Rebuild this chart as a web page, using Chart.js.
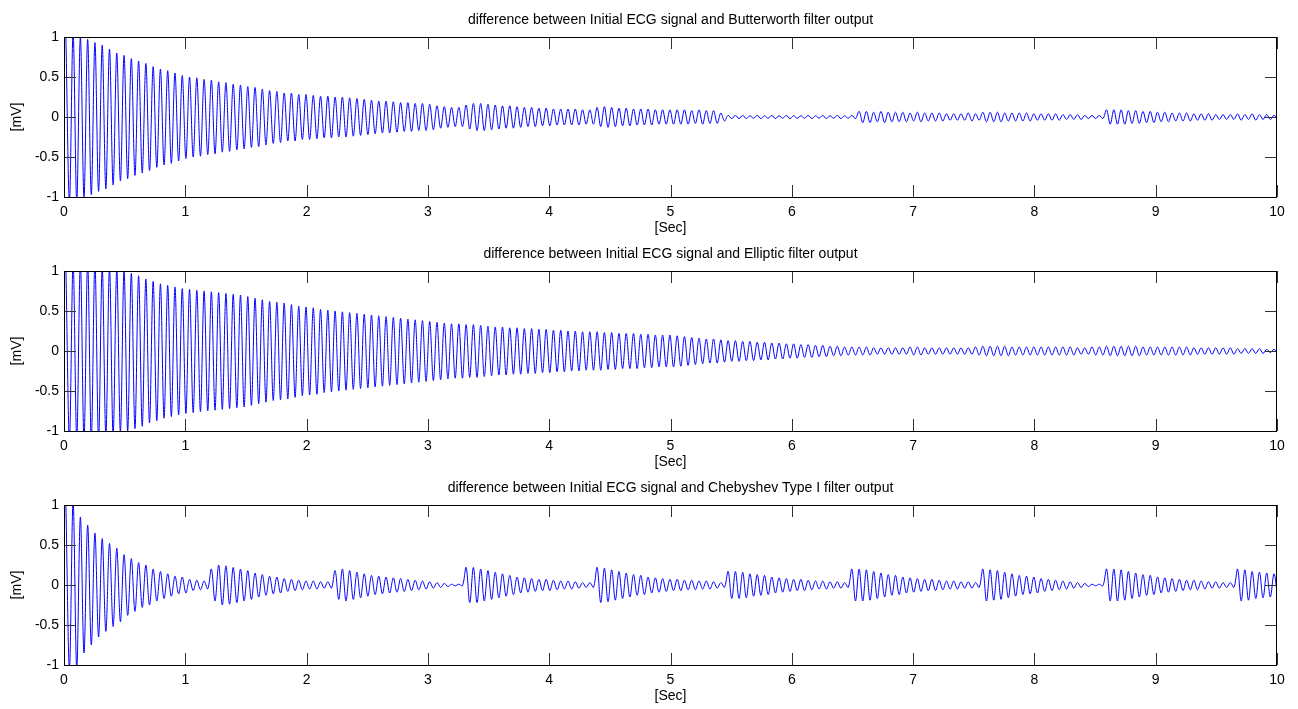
<!DOCTYPE html>
<html>
<head>
<meta charset="utf-8">
<script src="https://cdn.jsdelivr.net/npm/chart.js@4.4.1/dist/chart.umd.min.js"></script>
<style>
  html, body { margin: 0; padding: 0; background: #fff; }
  body { width: 1298px; height: 709px; position: relative; overflow: hidden; }
  .panel { position: absolute; left: 0; width: 1298px; height: 237px; }
</style>
</head>
<body>
<div class="panel" style="top:0"><canvas id="c0" width="1298" height="237"></canvas></div>
<div class="panel" style="top:234px"><canvas id="c1" width="1298" height="237"></canvas></div>
<div class="panel" style="top:468px"><canvas id="c2" width="1298" height="237"></canvas></div>
<script>
// axis ticks
const xTicks = [0, 1, 2, 3, 4, 5, 6, 7, 8, 9, 10]
const yTicks = [-1, -0.5, 0, 0.5, 1]

const titles = [
  'difference between Initial ECG signal and Butterworth filter output',
  'difference between Initial ECG signal and Elliptic filter output',
  'difference between Initial ECG signal and Chebyshev Type I filter output'
]

// the residual oscillates at ~16.7 Hz -> one cycle every 0.06 s
const period = 0.06

// peak amplitude of each cycle [mV] (167 cycles over 10 s)
const butterworthAmp = [
  1.05, 1.05, 1.0, 0.97, 0.93, 0.9, 0.85, 0.8, 0.77, 0.73, 0.7, 0.67, 0.63, 0.6, 0.58, 0.55, 0.52,
  0.5, 0.49, 0.47, 0.46, 0.44, 0.43, 0.41, 0.4, 0.38, 0.37, 0.35, 0.33, 0.32, 0.3, 0.3, 0.28, 0.28,
  0.27, 0.26, 0.26, 0.25, 0.25, 0.24, 0.23, 0.22, 0.21, 0.2, 0.2, 0.19, 0.18, 0.18, 0.17, 0.17, 0.16,
  0.14, 0.13, 0.12, 0.12, 0.15, 0.17, 0.17, 0.16, 0.15, 0.14, 0.14, 0.13, 0.12, 0.12, 0.11, 0.11, 0.1,
  0.1, 0.1, 0.1, 0.09, 0.09, 0.12, 0.13, 0.12, 0.11, 0.11, 0.1, 0.1, 0.1, 0.09, 0.09, 0.09,
  0.09, 0.09, 0.08, 0.09, 0.08, 0.08, 0.05, 0.02, 0.02, 0.02, 0.015, 0.02, 0.015, 0.02, 0.015, 0.02, 0.015,
  0.015, 0.02, 0.015, 0.02, 0.015, 0.02, 0.015, 0.02,
  0.07, 0.07, 0.06, 0.07, 0.06, 0.06, 0.06, 0.05, 0.06, 0.05, 0.05, 0.05, 0.04, 0.04, 0.04, 0.05, 0.04,
  0.06, 0.06, 0.06, 0.05, 0.05, 0.05, 0.05, 0.04, 0.04, 0.04, 0.04, 0.03, 0.03, 0.03, 0.02, 0.02, 0.02,
  0.09, 0.09, 0.09, 0.08, 0.08, 0.07, 0.07, 0.06, 0.06, 0.05, 0.05, 0.05, 0.04, 0.04, 0.04, 0.03, 0.03,
  0.03, 0.04, 0.03, 0.04, 0.03, 0.03, 0.02
]

const ellipticAmp = [
  1.1, 1.1, 1.1, 1.1, 1.1, 1.05, 1.05, 1.02, 1.0,
  0.97, 0.94, 0.9, 0.87, 0.84, 0.82, 0.8, 0.78,
  0.77, 0.76, 0.75, 0.74, 0.73, 0.72, 0.71, 0.7, 0.68, 0.66, 0.64, 0.62, 0.61, 0.6, 0.58, 0.56, 0.55,
  0.54, 0.52, 0.51, 0.5, 0.49, 0.48, 0.47, 0.46, 0.45, 0.44, 0.43, 0.42, 0.41, 0.4, 0.39, 0.38, 0.37,
  0.36, 0.35, 0.34, 0.34, 0.33, 0.33, 0.32, 0.31, 0.3, 0.3, 0.29, 0.29, 0.28, 0.28, 0.27, 0.27, 0.26,
  0.26, 0.25, 0.25, 0.24, 0.24, 0.24, 0.23, 0.23, 0.22, 0.22, 0.22, 0.21, 0.21, 0.2, 0.2, 0.2, 0.19,
  0.18, 0.17, 0.16, 0.15, 0.15, 0.14, 0.13, 0.13, 0.12, 0.12, 0.11, 0.11, 0.1, 0.1, 0.09, 0.09, 0.08,
  0.08, 0.07, 0.07, 0.06, 0.06, 0.05, 0.05, 0.05, 0.05, 0.04, 0.04, 0.04, 0.04, 0.04, 0.05, 0.05, 0.04,
  0.04, 0.04, 0.04, 0.04, 0.04, 0.04, 0.05, 0.06, 0.06, 0.06, 0.06, 0.05, 0.05, 0.05, 0.05, 0.05, 0.05,
  0.05, 0.05, 0.05, 0.04, 0.04, 0.05, 0.05, 0.06, 0.06, 0.06, 0.06, 0.06, 0.05, 0.05, 0.05, 0.05, 0.05,
  0.05, 0.05, 0.04, 0.04, 0.04, 0.04, 0.04, 0.04, 0.03, 0.03, 0.03, 0.03, 0.02, 0.02
]

const chebyshevAmp = [
  1.05, 1.05, 0.85, 0.75, 0.65, 0.58, 0.52, 0.46, 0.38, 0.33, 0.28, 0.25, 0.2, 0.17, 0.14, 0.11, 0.1, 0.07, 0.06, 0.05,
  0.2, 0.25, 0.24, 0.22, 0.2, 0.18, 0.15, 0.13, 0.11, 0.1, 0.08, 0.07, 0.06, 0.05, 0.05, 0.04, 0.04,
  0.18, 0.2, 0.18, 0.16, 0.14, 0.12, 0.11, 0.1, 0.09, 0.08, 0.07, 0.06, 0.05, 0.04, 0.03, 0.02, 0.01, 0.01,
  0.22, 0.22, 0.2, 0.18, 0.16, 0.14, 0.12, 0.1, 0.09, 0.08, 0.07, 0.07, 0.06, 0.05, 0.05, 0.04, 0.03, 0.03,
  0.22, 0.21, 0.19, 0.17, 0.15, 0.13, 0.12, 0.1, 0.09, 0.08, 0.07, 0.07, 0.06, 0.06, 0.05, 0.05, 0.04, 0.03,
  0.17, 0.17, 0.16, 0.14, 0.13, 0.12, 0.1, 0.09, 0.08, 0.07, 0.07, 0.06, 0.05, 0.05, 0.04, 0.04, 0.03,
  0.2, 0.2, 0.19, 0.17, 0.15, 0.13, 0.12, 0.1, 0.09, 0.08, 0.07, 0.07, 0.06, 0.05, 0.05, 0.04, 0.04, 0.03,
  0.2, 0.19, 0.18, 0.16, 0.14, 0.12, 0.11, 0.1, 0.08, 0.07, 0.06, 0.05, 0.04, 0.03, 0.02, 0.01, 0.01,
  0.2, 0.2, 0.19, 0.17, 0.15, 0.13, 0.12, 0.1, 0.09, 0.08, 0.07, 0.06, 0.06, 0.05, 0.04, 0.04, 0.03, 0.03,
  0.2, 0.19, 0.17, 0.16, 0.15, 0.14
]

const series = [butterworthAmp, ellipticAmp, chebyshevAmp]

const FONT = "'Liberation Sans', Arial, sans-serif"
Chart.defaults.font.family = FONT
Chart.defaults.font.size = 14
Chart.defaults.color = '#000'

// one peak and one trough per cycle
function toTrace(amp) {
  const pts = []
  amp.forEach((a, k) => {
    pts.push({ x: k * period + period / 4, y: a })
    pts.push({ x: k * period + 3 * period / 4, y: -a })
  })
  return pts
}

// matlab style: closed box, ticks pointing inwards on all four sides
const matlabBox = {
  id: 'matlabBox',
  afterDatasetsDraw(chart) {
    const { ctx, chartArea: a, scales: { x, y } } = chart
    ctx.save()
    ctx.lineWidth = 1
    ctx.strokeStyle = '#333'
    ctx.beginPath()
    xTicks.forEach(v => {
      const px = Math.round(x.getPixelForValue(v)) + 0.5
      ctx.moveTo(px, a.bottom); ctx.lineTo(px, a.bottom - 12)
      ctx.moveTo(px, a.top); ctx.lineTo(px, a.top + 12)
    })
    yTicks.forEach(v => {
      const py = Math.round(y.getPixelForValue(v)) + 0.5
      ctx.moveTo(a.left, py); ctx.lineTo(a.left + 12, py)
      ctx.moveTo(a.right, py); ctx.lineTo(a.right - 12, py)
    })
    ctx.stroke()
    ctx.strokeStyle = '#000'
    ctx.strokeRect(Math.round(a.left) + 0.5, Math.round(a.top) + 0.5,
      Math.round(a.width) - 1, Math.round(a.height))
    ctx.restore()
  }
}

series.forEach((amp, i) => {
  const ctx = document.getElementById('c' + i).getContext('2d')
  new Chart(ctx, {
    type: 'line',
    data: {
      datasets: [{
        data: toTrace(amp),
        borderColor: '#0000ff',
        borderWidth: 1,
        pointRadius: 0,
        tension: 0.35,
        fill: false
      }]
    },
    options: {
      responsive: false,
      animation: false,
      events: [],
      layout: { padding: { left: 0, right: 21, top: 0, bottom: 0 } },
      plugins: {
        legend: { display: false },
        tooltip: { enabled: false },
        title: {
          display: true,
          fullSize: false,   // center over the axes like matlab
          text: titles[i],
          font: { size: 14, weight: 'normal', lineHeight: 1.2 },
          color: '#000',
          padding: { top: 11.6, bottom: 8.6 }
        }
      },
      scales: {
        x: {
          type: 'linear',
          min: 0,
          max: 10,
          afterBuildTicks: s => { s.ticks = xTicks.map(v => ({ value: v })) },
          afterFit: s => { s.height = 40 },
          grid: { display: false, drawTicks: false },
          border: { display: false },
          ticks: { padding: 7, maxRotation: 0, color: '#000', callback: v => String(v) },
          title: { display: true, text: '[Sec]', color: '#000', padding: { top: 0, bottom: 0 } }
        },
        y: {
          min: -1,
          max: 1,
          afterBuildTicks: s => { s.ticks = yTicks.map(v => ({ value: v })) },
          afterFit: s => { s.width = 64 },
          grid: { display: false, drawTicks: false },
          border: { display: false },
          ticks: { padding: 5, color: '#000', callback: v => String(v) },
          title: { display: true, text: '[mV]', color: '#000', padding: { top: 9, bottom: 0 } }
        }
      }
    },
    plugins: [matlabBox]
  })
})
</script>
</body>
</html>
